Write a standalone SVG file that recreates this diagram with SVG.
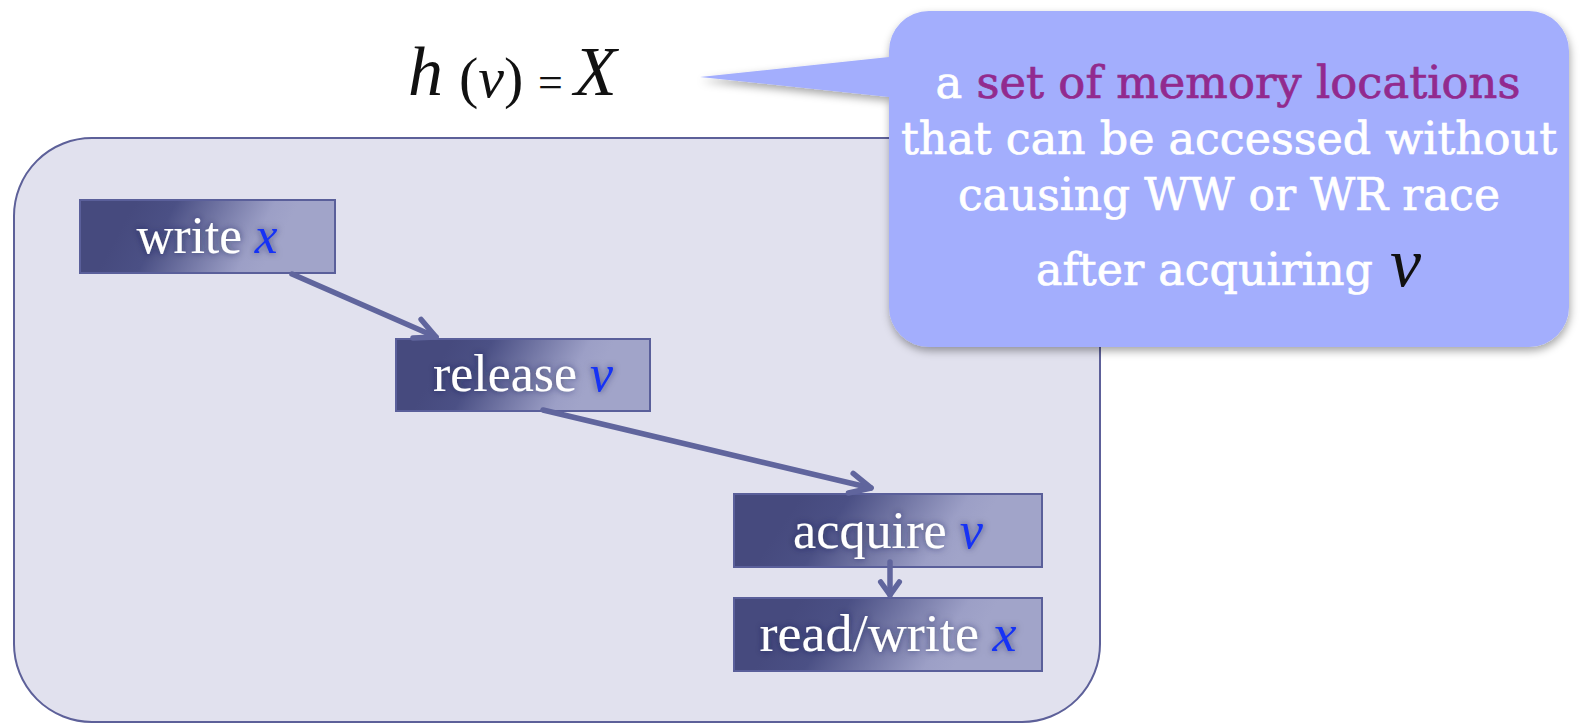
<svg xmlns="http://www.w3.org/2000/svg" width="1580" height="723" viewBox="0 0 1580 723">
  <style>
    .frame { fill: #e1e1ee; stroke: #5d6099; stroke-width: 2; }
    .box { fill: url(#boxGrad); stroke: #5a5f9a; stroke-width: 2; }
    .lbl { font-family: "Liberation Serif", "Times New Roman", serif; font-size: 52px; fill: #ffffff; text-anchor: middle; filter: url(#txtGlow); }
    .var { font-style: italic; fill: #1432f5; }
    .edge { fill: none; stroke: #60659d; stroke-width: 5.5; stroke-linecap: round; }
    .math { font-family: "Liberation Serif", "Times New Roman", serif; fill: #111111; }
    .note { font-family: "DejaVu Serif", "Liberation Serif", serif; font-size: 44px; fill: #ffffff; stroke: #ffffff; stroke-width: 0.7; text-anchor: middle; }
    .note.start { text-anchor: start; }
    .hl { fill: #922a8e; stroke: #922a8e; }
  </style>
  <defs>
    <linearGradient id="boxGrad" x1="0.15" y1="0.45" x2="0.78" y2="0.55">
      <stop offset="0" stop-color="#464a7e"/>
      <stop offset="0.25" stop-color="#4b5085"/>
      <stop offset="0.85" stop-color="#9c9fc6"/>
      <stop offset="1" stop-color="#a1a4c9"/>
    </linearGradient>
    <filter id="txtGlow" x="-20%" y="-40%" width="140%" height="180%">
      <feGaussianBlur in="SourceAlpha" stdDeviation="3.5" result="blur"/>
      <feFlood flood-color="#1c1f4a" flood-opacity="0.6"/>
      <feComposite in2="blur" operator="in" result="shade"/>
      <feMerge>
        <feMergeNode in="shade"/>
        <feMergeNode in="SourceGraphic"/>
      </feMerge>
    </filter>
    <filter id="calloutShadow" x="-5%" y="-10%" width="110%" height="125%">
      <feDropShadow dx="1" dy="4" stdDeviation="4" flood-color="#000000" flood-opacity="0.35"/>
    </filter>
    <marker id="chev" markerUnits="userSpaceOnUse" viewBox="-30 -20 40 40" markerWidth="40" markerHeight="40" refX="0" refY="0" orient="auto" overflow="visible">
      <path d="M-20.7,-10.1 L0,0 L-20.7,10.1" fill="none" stroke="#60659d" stroke-width="5.5" stroke-linecap="round" stroke-linejoin="round"/>
    </marker>
    <marker id="chevS" markerUnits="userSpaceOnUse" viewBox="-30 -20 40 40" markerWidth="40" markerHeight="40" refX="0" refY="0" orient="auto" overflow="visible">
      <path d="M-13,-9.3 L0,0 L-13,9.3" fill="none" stroke="#60659d" stroke-width="5.5" stroke-linecap="round" stroke-linejoin="round"/>
    </marker>
  </defs>

  <!-- title formula -->
  <g id="formula">
    <text class="math" y="95">
      <tspan x="408" font-size="70" font-style="italic">h</tspan>
      <tspan x="459" y="97" font-size="58">(</tspan><tspan font-size="58" font-style="italic">v</tspan><tspan font-size="58">)</tspan>
      <tspan x="538" y="97" font-size="44">=</tspan>
      <tspan x="574" y="95" font-size="70" font-style="italic">X</tspan>
    </text>
  </g>

  <!-- enclosing region -->
  <g id="region">
    <rect class="frame" x="14" y="138" width="1086" height="584" rx="78" ry="78"/>
  </g>

  <!-- operation nodes -->
  <g id="node-write">
    <rect class="box" x="80" y="200" width="255" height="73"/>
    <text class="lbl" x="207" y="253" textLength="141" lengthAdjust="spacingAndGlyphs">write <tspan class="var">x</tspan></text>
  </g>
  <g id="node-release">
    <rect class="box" x="396" y="339" width="254" height="72"/>
    <text class="lbl" x="523" y="391" textLength="180" lengthAdjust="spacingAndGlyphs">release <tspan class="var">v</tspan></text>
  </g>
  <g id="node-acquire">
    <rect class="box" x="734" y="494" width="308" height="73"/>
    <text class="lbl" x="888" y="548" textLength="190" lengthAdjust="spacingAndGlyphs">acquire <tspan class="var">v</tspan></text>
  </g>
  <g id="node-readwrite">
    <rect class="box" x="734" y="598" width="308" height="73"/>
    <text class="lbl" x="888" y="651" textLength="257" lengthAdjust="spacingAndGlyphs">read/write <tspan class="var">x</tspan></text>
  </g>

  <!-- connectors (drawn over the node boxes) -->
  <g id="connectors">
    <line class="edge" x1="292" y1="274" x2="436" y2="337" marker-end="url(#chev)"/>
    <line class="edge" x1="543" y1="410" x2="871" y2="488" marker-end="url(#chev)"/>
    <line class="edge" x1="890" y1="562" x2="890" y2="595" marker-end="url(#chevS)"/>
  </g>

  <!-- speech bubble -->
  <g id="callout">
    <path d="M929,11 H1529 A40,40 0 0 1 1569,51 V307 A40,40 0 0 1 1529,347 H929 A40,40 0 0 1 889,307 V97 L700,77 L889,57 V51 A40,40 0 0 1 929,11 Z" fill="#a3aefd" filter="url(#calloutShadow)"/>
    <text class="note" x="1228" y="98" textLength="585" lengthAdjust="spacingAndGlyphs">a <tspan class="hl">set of memory locations</tspan></text>
    <text class="note" x="1229" y="154" textLength="656" lengthAdjust="spacingAndGlyphs">that can be accessed without</text>
    <text class="note" x="1229" y="210" textLength="542" lengthAdjust="spacingAndGlyphs">causing WW or WR race</text>
    <text class="note start" x="1036" y="285" textLength="337" lengthAdjust="spacingAndGlyphs">after acquiring</text>
    <text class="math" x="1390" y="286" font-size="70" font-style="italic">v</text>
  </g>
</svg>
